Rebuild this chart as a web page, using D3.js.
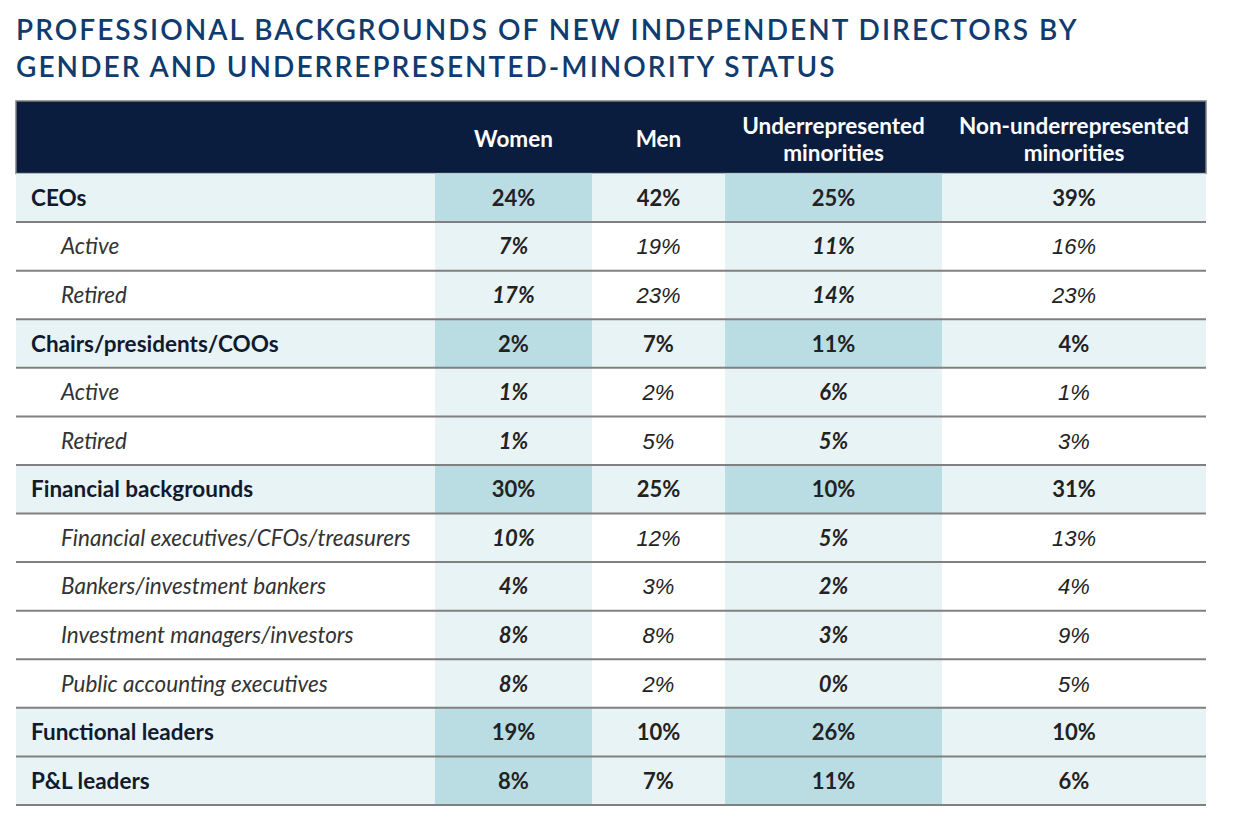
<!DOCTYPE html>
<html>
<head>
<meta charset="utf-8">
<script src="https://cdn.jsdelivr.net/npm/d3@7"></script>
<style>
  body { margin: 0; background: #fff; }
  svg { display: block; }
</style>
</head>
<body>
<svg id="chart" width="1233" height="831"></svg>
<script>
// row labels and whether each row is a main category or a sub-item
const rowLabels = [
  "CEOs", "Active", "Retired",
  "Chairs/presidents/COOs", "Active", "Retired",
  "Financial backgrounds", "Financial executives/CFOs/treasurers",
  "Bankers/investment bankers", "Investment managers/investors",
  "Public accounting executives",
  "Functional leaders", "P&L leaders"
];
const rowIsMain = [true, false, false, true, false, false, true, false, false, false, false, true, true];

const columns = ["Women", "Men", "Underrepresented minorities", "Non-underrepresented minorities"];
const headerLines = [["Women"], ["Men"], ["Underrepresented", "minorities"], ["Non-underrepresented", "minorities"]];

// shares in percent
const women  = [24, 7, 17, 2, 1, 1, 30, 10, 4, 8, 8, 19, 8];
const men    = [42, 19, 23, 7, 2, 5, 25, 12, 3, 8, 2, 10, 7];
const urm    = [25, 11, 14, 11, 6, 5, 10, 5, 2, 3, 0, 26, 11];
const nonUrm = [39, 16, 23, 4, 1, 3, 31, 13, 4, 9, 5, 10, 6];
const series = [women, men, urm, nonUrm];
const highlighted = [true, false, true, false];

const svg = d3.select("#chart");
const left = 16, right = 1206, headTop = 101, headBottom = 173.5, bottom = 805;
const font = "Lato, 'Open Sans', sans-serif";

// column edges (label column + 4 data columns)
const colEdges = [left, 435, 592, 725, 942, right];

const y = d3.scaleBand()
  .domain(d3.range(rowLabels.length))
  .range([headBottom, bottom]);

const x = d3.scaleOrdinal()
  .domain(d3.range(columns.length))
  .range(d3.range(columns.length).map(i => colEdges[i + 1]));
const colW = i => colEdges[i + 2] - colEdges[i + 1];

// title
svg.append("g").selectAll("text")
  .data(["PROFESSIONAL BACKGROUNDS OF NEW INDEPENDENT DIRECTORS BY",
         "GENDER AND UNDERREPRESENTED-MINORITY STATUS"])
  .join("text")
  .attr("x", left)
  .attr("y", (d, i) => 40 + i * 37)
  .attr("font-family", font)
  .attr("font-size", 28)
  .attr("font-weight", 600)
  .attr("letter-spacing", 2.05)
  .attr("fill", "#0f3b6f")
  .text(d => d);

// header
svg.append("rect")
  .attr("x", left).attr("y", headTop)
  .attr("width", right - left).attr("height", headBottom - headTop)
  .attr("fill", "#0b1d3f")
  .attr("stroke", "#808080").attr("stroke-width", 1.5);

const head = svg.append("g").selectAll("text")
  .data(headerLines)
  .join("text")
  .attr("text-anchor", "middle")
  .attr("font-family", font)
  .attr("font-size", 22.5)
  .attr("font-weight", 700)
  .attr("fill", "#fff");
head.selectAll("tspan")
  .data((d, i) => d.map((t, k) => ({t, k, n: d.length, i})))
  .join("tspan")
  .attr("x", d => x(d.i) + colW(d.i) / 2)
  .attr("y", d => d.n === 1 ? 147 : 134 + d.k * 27)
  .text(d => d.t);

// row backgrounds
const rows = svg.append("g").selectAll("g")
  .data(rowLabels.map((label, r) => ({label, r, main: rowIsMain[r]})))
  .join("g")
  .attr("transform", d => `translate(0,${y(d.r)})`);

rows.append("rect")
  .attr("x", left).attr("width", right - left)
  .attr("height", y.bandwidth())
  .attr("fill", d => d.main ? "#e8f3f5" : "#fff");

rows.selectAll(".cell")
  .data(d => columns.map((c, i) => ({i, r: d.r, main: d.main})).filter(c => highlighted[c.i]))
  .join("rect")
  .attr("class", "cell")
  .attr("x", d => x(d.i))
  .attr("width", d => colW(d.i))
  .attr("height", y.bandwidth())
  .attr("fill", d => d.main ? "#badde3" : "#e8f3f5");

// row labels
rows.append("text")
  .attr("x", d => d.main ? 31 : 61)
  .attr("y", y.bandwidth() / 2 + 8)
  .attr("font-family", font)
  .attr("font-size", 22.5)
  .attr("font-weight", d => d.main ? 700 : 400)
  .attr("font-style", d => d.main ? "normal" : "italic")
  .attr("fill", d => d.main ? "#111a2e" : "#333")
  .text(d => d.label);

// values
const plain = d => !d.main && !highlighted[d.i];
rows.selectAll(".val")
  .data(d => series.map((s, i) => ({i, v: s[d.r], main: d.main})))
  .join("text")
  .attr("class", "val")
  .attr("x", d => x(d.i) + colW(d.i) / 2)
  .attr("y", y.bandwidth() / 2 + 8)
  .attr("text-anchor", "middle")
  .attr("font-family", d => plain(d) ? "'Liberation Sans', Arial, sans-serif" : font)
  .attr("font-size", 22)
  .attr("font-weight", d => plain(d) ? 400 : 700)
  .attr("font-style", d => d.main ? "normal" : "italic")
  .attr("fill", "#222")
  .text(d => d.v + "%");

// row separators
svg.append("g").selectAll("line")
  .data(d3.range(rowLabels.length))
  .join("line")
  .attr("x1", left).attr("x2", right)
  .attr("y1", r => y(r) + y.bandwidth())
  .attr("y2", r => y(r) + y.bandwidth())
  .attr("stroke", "#808080")
  .attr("stroke-width", 2);
</script>
</body>
</html>
